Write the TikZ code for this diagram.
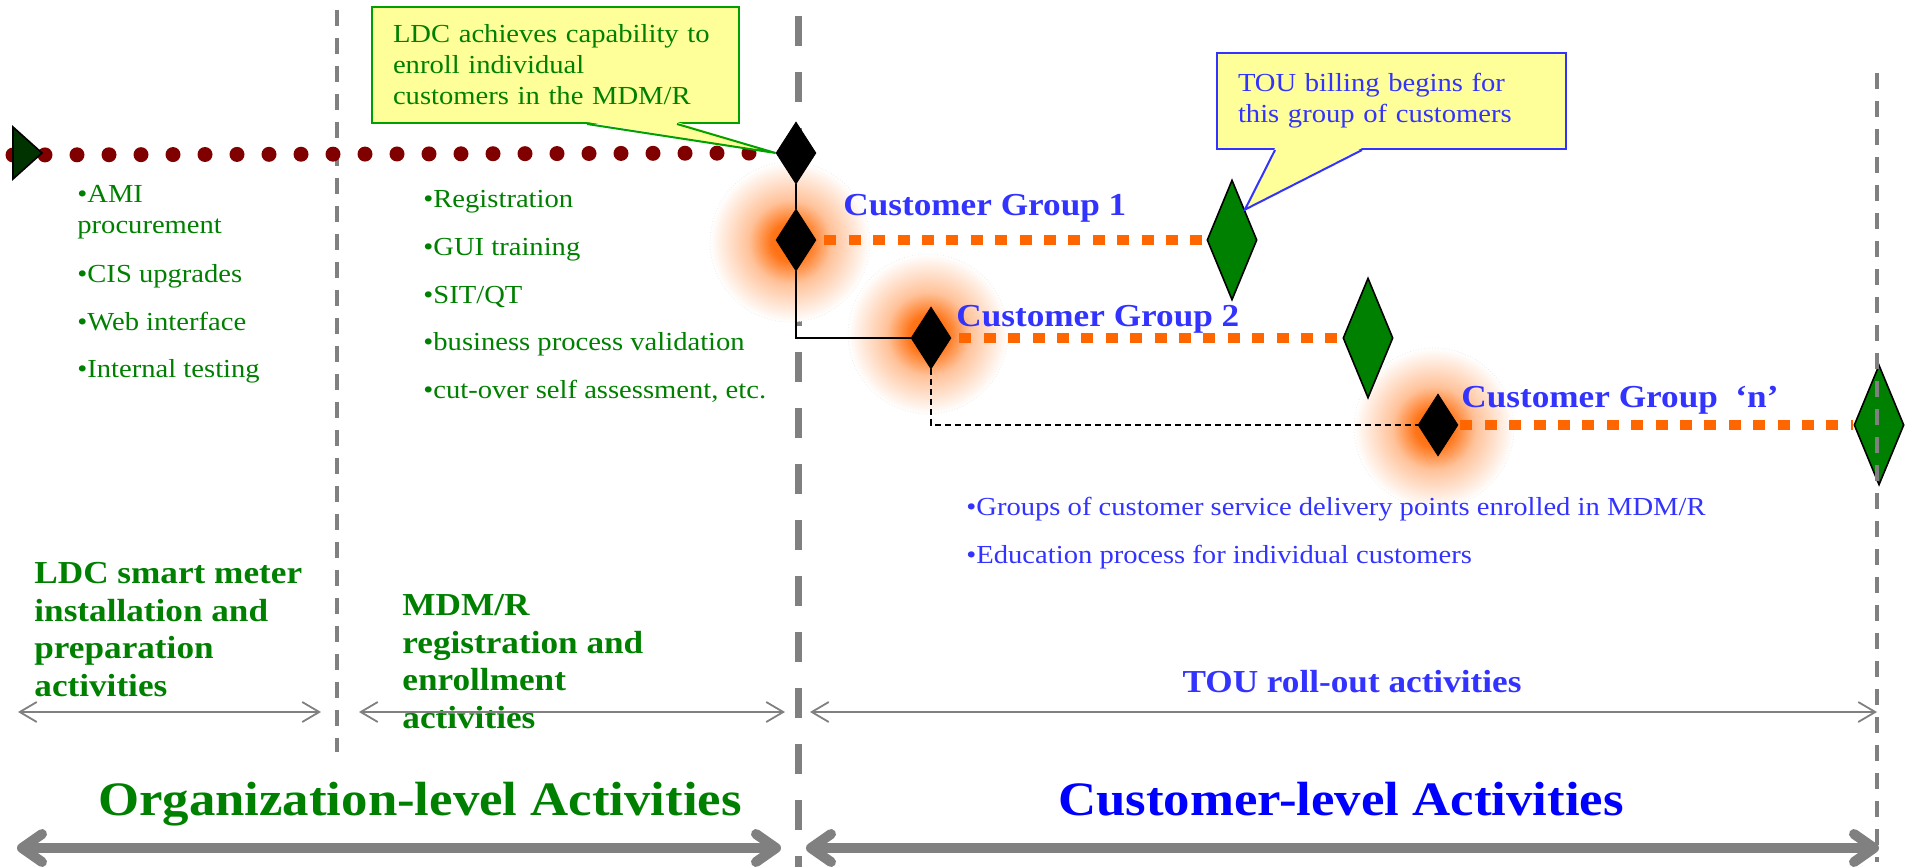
\documentclass[tikz,border=0pt]{standalone}
\usepackage{fontspec}
\setmainfont{Liberation Serif}[FakeStretch=1.1]
\usetikzlibrary{shapes.geometric,arrows.meta}

\definecolor{ldcgreen}{RGB}{0,128,0}
\definecolor{groupblue}{RGB}{51,51,255}
\definecolor{titleblue}{RGB}{0,0,255}
\definecolor{linegray}{RGB}{128,128,128}
\definecolor{dotred}{RGB}{128,0,0}
\definecolor{rollorange}{RGB}{255,102,0}
\definecolor{noteyellow}{RGB}{255,255,153}
\definecolor{notegreen}{RGB}{0,160,0}
\definecolor{startgreen}{RGB}{0,51,0}

\pgfdeclareradialshading{glow}{\pgfpoint{0bp}{0bp}}{%
  color(0bp)=(rollorange); color(6bp)=(rollorange!90); color(13bp)=(rollorange!40);
  color(25bp)=(white); color(50bp)=(white)}

\begin{document}
\begin{tikzpicture}[
        x=0.5pt, y=-0.5pt,
        blackdiamond/.style={
            diamond, draw = black, fill = black, inner sep = 0pt, minimum width = 20pt, minimum height = 31pt
        },
        greendiamond/.style={
            diamond, draw = black, fill = ldcgreen, line width = 0.8pt, inner sep = 0pt, minimum width = 25pt, minimum height = 60pt
        },
        item/.style={
            inner sep = 0pt, anchor = base west, align = left, font = \fontsize{13}{15.5}\selectfont
        },
        phase/.style={
            inner sep = 0pt, anchor = base west, align = left, text = ldcgreen, font = \fontsize{16}{18.75}\selectfont\bfseries
        },
        grouplabel/.style={
            inner sep = 0pt, anchor = base west, text = groupblue, font = \fontsize{16}{19}\selectfont\bfseries
        },
        bigtitle/.style={
            inner sep = 0pt, anchor = base, font = \fontsize{24}{28}\selectfont\bfseries
        },
        note/.style={
            anchor = north west, fill = noteyellow, line width = 1pt, align = left, inner xsep = 10.5pt, inner ysep = 0pt, font = \fontsize{13}{15.5}\selectfont
        },
        glowspot/.style={shading = glow, draw = black!7, densely dotted, line width = 0.4pt},
        link/.style={draw = black, line width = 0.8pt},
        dashedlink/.style={draw = black, line width = 0.8pt, dash pattern = on 3pt off 2pt},
        rollout/.style={draw = rollorange, line width = 5pt, dash pattern = on 6pt off 6.2pt},
        prepdots/.style={draw = dotred, line width = 7.5pt, line cap = round, dash pattern = on 0pt off 16pt},
        phasesplit/.style={draw = linegray, line width = 1.6pt, dash pattern = on 8pt off 6pt},
        levelsplit/.style={draw = linegray, line width = 3.5pt, dash pattern = on 15pt off 13pt},
        span/.style={draw = linegray, line width = 0.9pt,
            arrows = {Straight Barb[length=8.5pt,width=10pt]-Straight Barb[length=8.5pt,width=10pt]}},
        levelspan/.style={draw = linegray, line width = 5pt, line cap = round,
            arrows = {Straight Barb[length=10pt,width=14pt,line cap=round,line join=round]-Straight Barb[length=10pt,width=14pt,line cap=round,line join=round]}},
    ]
        \useasboundingbox (0,0) rectangle (1910,867);

        % phase borders
        \coordinate (prepSplitTop) at (337,10);
        \coordinate (prepSplitBottom) at (337,752);
        \coordinate (levelSplitTop) at (798,16);
        \coordinate (levelSplitBottom) at (798,867);
        \coordinate (rollEndTop) at (1877,73);
        \coordinate (rollEndBottom) at (1877,862);
        \draw[phasesplit] (prepSplitTop) -- (prepSplitBottom);
        \draw[levelsplit] (levelSplitTop) -- (levelSplitBottom);

        % glow behind the group starts
        \path[glowspot] (790,242) circle (80);
        \path[glowspot] (928,334) circle (80);
        \path[glowspot] (1434,428) circle (80);

        % milestones
        \node (enrollReady) [blackdiamond] at (796,153) {};
        \node (groupOneStart) [blackdiamond] at (796,240) {};
        \node (groupTwoStart) [blackdiamond] at (931,338) {};
        \node (groupNStart) [blackdiamond] at (1438,425) {};
        \node (groupOneEnd) [greendiamond] at (1232,240) {};
        \node (groupTwoEnd) [greendiamond] at (1368,338) {};
        \node (groupNEnd) [greendiamond] at (1879,425) {};
        \draw[phasesplit] (rollEndTop) -- (rollEndBottom);

        \coordinate (prepStart) at (13,155);
        \draw[prepdots] (prepStart) -- (enrollReady.west);
        \filldraw[fill = startgreen, draw = black, line width = 0.8pt] (13,127) -- (42,153) -- (13,179) -- cycle;

        \draw[link] (enrollReady.south) -- (groupOneStart.north);
        \draw[link] (groupOneStart.south) |- (groupTwoStart.west);
        \draw[dashedlink] (groupTwoStart.south) |- (groupNStart.west);
        \draw[rollout, shorten <= 4pt] (groupOneStart.east) -- (groupOneEnd.west);
        \draw[rollout, shorten <= 4pt] (groupTwoStart.east) -- (groupTwoEnd.west);
        \draw[rollout, shorten <= 1pt] (groupNStart.east) -- (groupNEnd.west);

        % callouts
        \node (ldcNote) [note, draw = notegreen, text = ldcgreen, text width = 162.5pt, minimum height = 58pt] at (371,6)
            {LDC achieves capability to\\enroll individual\\customers in the MDM/R};
        \fill[noteyellow] ([xshift=108pt,yshift=1pt]ldcNote.south west) -- (enrollReady.west) -- ([xshift=153pt,yshift=1pt]ldcNote.south west) -- cycle;
        \draw[notegreen, line width = 1pt] ([xshift=108pt]ldcNote.south west) -- (enrollReady.west) -- ([xshift=153pt]ldcNote.south west);

        \node (billNote) [note, draw = groupblue, text = groupblue, text width = 153.5pt, minimum height = 48pt] at (1216,52)
            {TOU billing begins for\\this group of customers};
        \fill[noteyellow] ([xshift=29.5pt,yshift=1pt]billNote.south west) -- (groupOneEnd.north east) -- ([xshift=73pt,yshift=1pt]billNote.south west) -- cycle;
        \draw[groupblue, line width = 1pt] ([xshift=29.5pt]billNote.south west) -- (groupOneEnd.north east) -- ([xshift=73pt]billNote.south west);

        % activity lists
        \node (amiItem) [item, text = ldcgreen] at (77,233) {\textbullet AMI\\procurement};
        \node (cisItem) [item, text = ldcgreen] at (77,282) {\textbullet CIS upgrades};
        \node (webItem) [item, text = ldcgreen] at (77,330) {\textbullet Web interface};
        \node (testItem) [item, text = ldcgreen] at (77,377) {\textbullet Internal testing};

        \node (regItem) [item, text = ldcgreen] at (423,207) {\textbullet Registration};
        \node (guiItem) [item, text = ldcgreen] at (423,255) {\textbullet GUI training};
        \node (sitItem) [item, text = ldcgreen] at (423,303) {\textbullet SIT/QT};
        \node (bpvItem) [item, text = ldcgreen] at (423,350) {\textbullet business process validation};
        \node (cutItem) [item, text = ldcgreen] at (423,398) {\textbullet cut-over self assessment, etc.};

        \node (groupOneLabel) [grouplabel] at (843,215) {Customer Group 1};
        \node (groupTwoLabel) [grouplabel] at (956,326) {Customer Group 2};
        \node (groupNLabel) [grouplabel] at (1461,407) {Customer Group\ \ `n'};

        \node (sdpItem) [item, text = groupblue] at (966,515) {\textbullet Groups of customer service delivery points enrolled in MDM/R};
        \node (eduItem) [item, text = groupblue] at (966,563) {\textbullet Education process for individual customers};

        % phases
        \node (prepPhase) [phase] at (34,696) {LDC smart meter\\installation and\\preparation\\activities};
        \node (enrollPhase) [phase] at (402,728) {MDM/R\\registration and\\enrollment\\activities};
        \node (rollPhase) [bigtitle, text = groupblue, font = \fontsize{16}{19}\selectfont\bfseries] at (1352,692) {TOU roll-out activities};

        \coordinate (prepSpanL) at (18,712);
        \coordinate (prepSpanR) at (321,712);
        \coordinate (enrollSpanL) at (359,712);
        \coordinate (enrollSpanR) at (785,712);
        \coordinate (rollSpanL) at (810,712);
        \coordinate (rollSpanR) at (1877,712);
        \draw[span] (prepSpanL) -- (prepSpanR);
        \draw[span] (enrollSpanL) -- (enrollSpanR);
        \draw[span] (rollSpanL) -- (rollSpanR);

        % levels
        \node (orgTitle) [bigtitle, text = ldcgreen] at (420,815) {Organization-level Activities};
        \node (custTitle) [bigtitle, text = titleblue] at (1341,815) {Customer-level Activities};
        \coordinate (orgSpanL) at (17,848);
        \coordinate (orgSpanR) at (781,848);
        \coordinate (custSpanL) at (806,848);
        \coordinate (custSpanR) at (1879,848);
        \draw[levelspan] (orgSpanL) -- (orgSpanR);
        \draw[levelspan] (custSpanL) -- (custSpanR);

    \end{tikzpicture}
\end{document}
